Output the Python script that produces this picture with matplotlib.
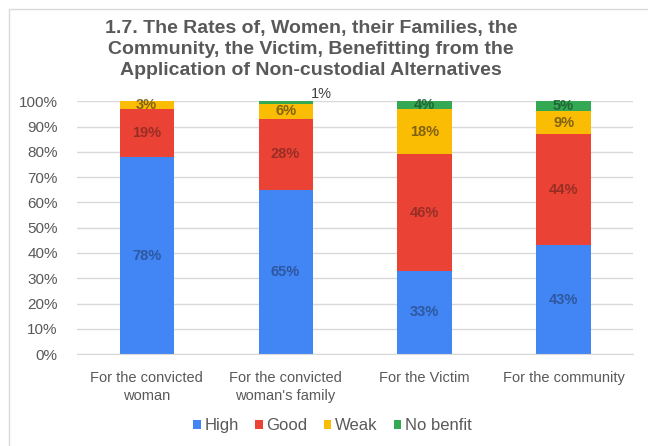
import numpy as np
import matplotlib.pyplot as plt
from matplotlib.patches import Rectangle

plt.rcParams['font.family'] = ['Liberation Sans', 'DejaVu Sans']

# data
categories = ['For the convicted\nwoman', "For the convicted\nwoman's family",
              'For the Victim', 'For the community']
high = [78, 65, 33, 43]
good = [19, 28, 46, 44]
weak = [3, 6, 18, 9]
nobenefit = [0, 1, 4, 5]
series_names = ['High', 'Good', 'Weak', 'No benfit']
colors = ['#4285f4', '#ea4335', '#fbbc04', '#34a853']
label_colors = ['#2a4f8f', '#8a2a22', '#6b5310', '#1d5a2e']

fig = plt.figure(figsize=(6.48, 4.46), dpi=100)
ax = fig.add_axes([0.119, 0.206, 0.858, 0.567])

# outer chart frame
fig.patches.append(Rectangle((0.014, -0.01), 1.0, 0.99, transform=fig.transFigure,
                             fill=False, edgecolor='#d9d9d9', linewidth=1))

x = np.arange(len(categories))
bottom = np.zeros(len(categories))
series = [high, good, weak, nobenefit]
for vals, name, col, lcol in zip(series, series_names, colors, label_colors):
    vals = np.array(vals, dtype=float)
    ax.bar(x, vals / 100, width=0.39, bottom=bottom / 100, color=col, label=name, zorder=2)
    for i, v in enumerate(vals):
        if v == 0:
            continue
        top = min(bottom[i] + v, 100)
        ymid = (bottom[i] + top) / 2
        if v <= 1:
            # tiny slice: label pushed outside the bar
            ax.text(x[i] + 0.26, 1.0, f'{int(v)}%', ha='center', va='bottom',
                    fontsize=10.5, color='#404040', clip_on=False)
        else:
            ax.text(x[i], ymid / 100, f'{int(v)}%', ha='center', va='center',
                    fontsize=10.5, fontweight='bold', color=lcol, alpha=0.85, zorder=3)
    bottom += vals

ax.set_ylim(0, 1)
ax.set_xlim(-0.5, len(categories) - 0.5)
ax.set_yticks(np.arange(0, 1.01, 0.1))
ax.set_yticklabels([f'{int(t)}%' for t in np.arange(0, 101, 10)], fontsize=11, color='#595959')
ax.set_xticks(x)
ax.set_xticklabels(categories, fontsize=10.5, color='#595959', linespacing=1.35)
ax.tick_params(axis='y', length=0, pad=14)
ax.tick_params(axis='x', length=0, pad=12)
ax.yaxis.grid(True, color='#d9d9d9', linewidth=1, zorder=0)
ax.set_axisbelow(True)
for s in ['top', 'right', 'left']:
    ax.spines[s].set_visible(False)
ax.spines['bottom'].set_color('#d9d9d9')

fig.text(0.48, 0.955, '1.7. The Rates of, Women, their Families, the\n'
         'Community, the Victim, Benefitting from the\n'
         'Application of Non-custodial Alternatives',
         ha='center', va='top', fontsize=14, fontweight='bold', color='#595959',
         linespacing=1.32)

fig.legend(loc='lower center', bbox_to_anchor=(0.513, -0.005), ncol=4, frameon=False,
           fontsize=12, handlelength=0.45, handleheight=0.45, handletextpad=0.2,
           columnspacing=1.0, labelcolor='#595959')

fig.savefig('out.png', dpi=100)
